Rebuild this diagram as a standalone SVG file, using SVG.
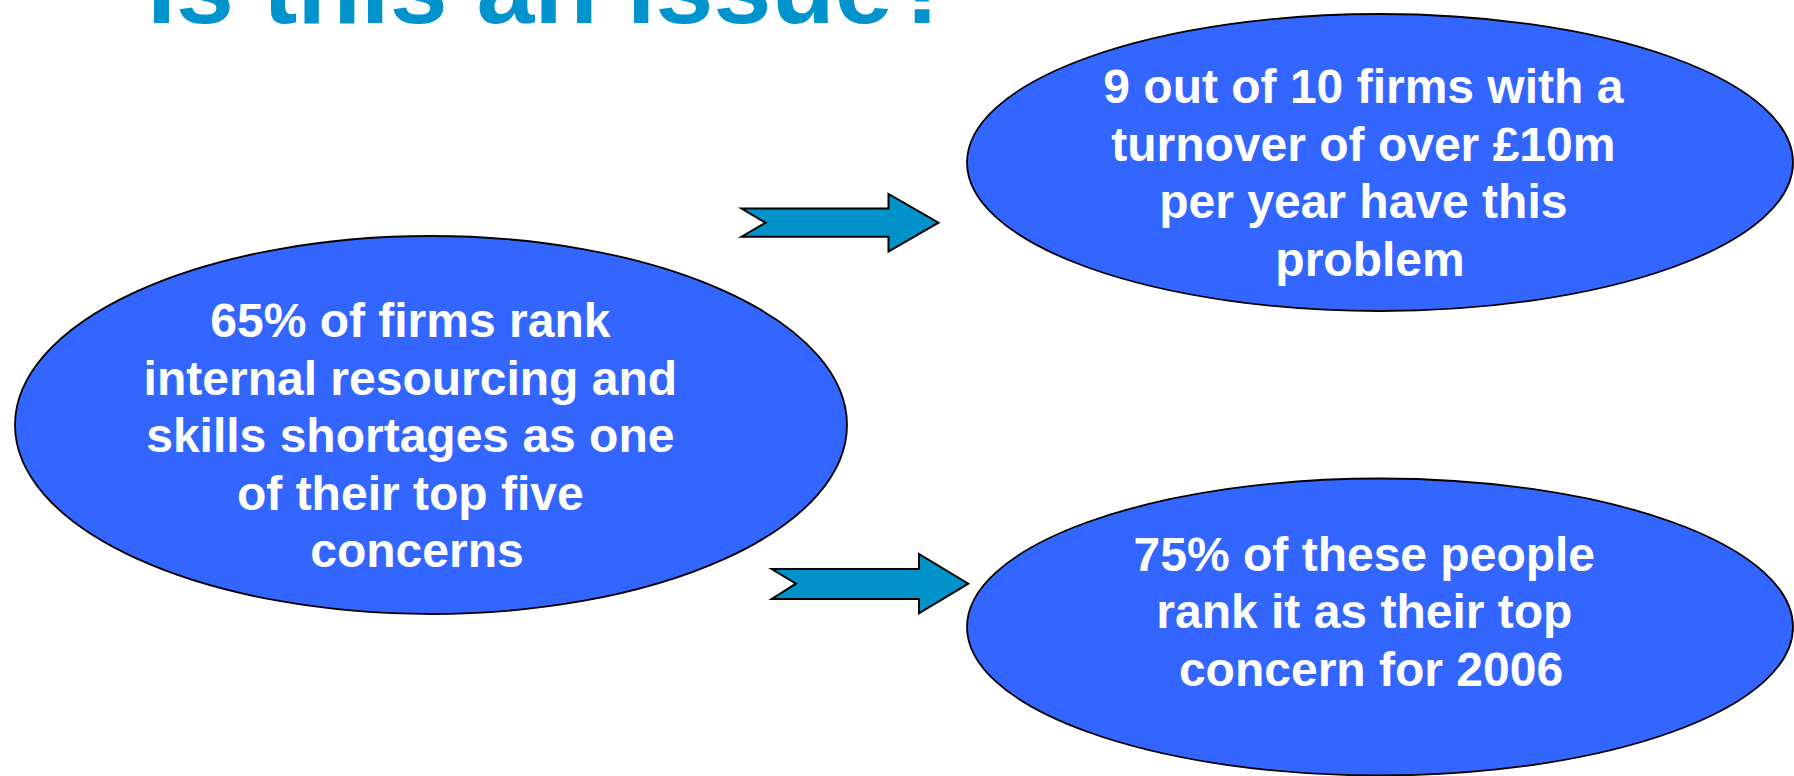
<svg xmlns="http://www.w3.org/2000/svg" width="1794" height="776" viewBox="0 0 1794 776">
  <style>
    .bubble { fill: #3366FF; stroke: #000000; stroke-width: 1.8; }
    .label { fill: #FFFFFF; font-family: "Liberation Sans", Arial, sans-serif; font-weight: bold; font-size: 48px; text-anchor: middle; }
    .title { fill: #0093CC; font-family: "Liberation Sans", Arial, sans-serif; font-weight: bold; font-size: 104px; }
    .arrow { fill: #0092C8; stroke: #000000; stroke-width: 2; stroke-linejoin: miter; }
  </style>

  <rect width="1794" height="776" fill="#FFFFFF"/>

  <!-- heading, partly above the top edge -->
  <g id="title">
    <text class="title" x="147" y="23">Is this an issue?</text>
  </g>

  <!-- notched block arrows -->
  <g id="connectors">
    <polygon class="arrow" points="741.5,208.5 888.5,208.5 888.5,194 938.5,222.7 888.5,251.5 888.5,236.7 741.5,236.7 765.5,222.7"/>
    <polygon class="arrow" points="771.7,569 919,569 919,554 968.3,583.7 919,613.3 919,599 771.7,599 796,583.7"/>
  </g>

  <g id="node-skills">
    <ellipse class="bubble" cx="431" cy="425" rx="416" ry="189"/>
    <text class="label">
      <tspan x="417" y="337">65% of firms rank</tspan>
      <tspan x="417" y="394.5">internal resourcing and</tspan>
      <tspan x="417" y="452">skills shortages as one</tspan>
      <tspan x="417" y="509.5">of their top five</tspan>
      <tspan x="417" y="567">concerns</tspan>
    </text>
  </g>

  <g id="node-turnover">
    <ellipse class="bubble" cx="1380" cy="162.5" rx="413" ry="148.5"/>
    <text class="label">
      <tspan x="1370" y="103">9 out of 10 firms with a</tspan>
      <tspan x="1370" y="160.5">turnover of over £10m</tspan>
      <tspan x="1370" y="218">per year have this</tspan>
      <tspan x="1370" y="275.5">problem</tspan>
    </text>
  </g>

  <g id="node-top-concern">
    <ellipse class="bubble" cx="1380" cy="627" rx="413" ry="148.5"/>
    <text class="label">
      <tspan x="1371" y="570.7">75% of these people</tspan>
      <tspan x="1371" y="628.3">rank it as their top</tspan>
      <tspan x="1371" y="685.7">concern for 2006</tspan>
    </text>
  </g>
</svg>
